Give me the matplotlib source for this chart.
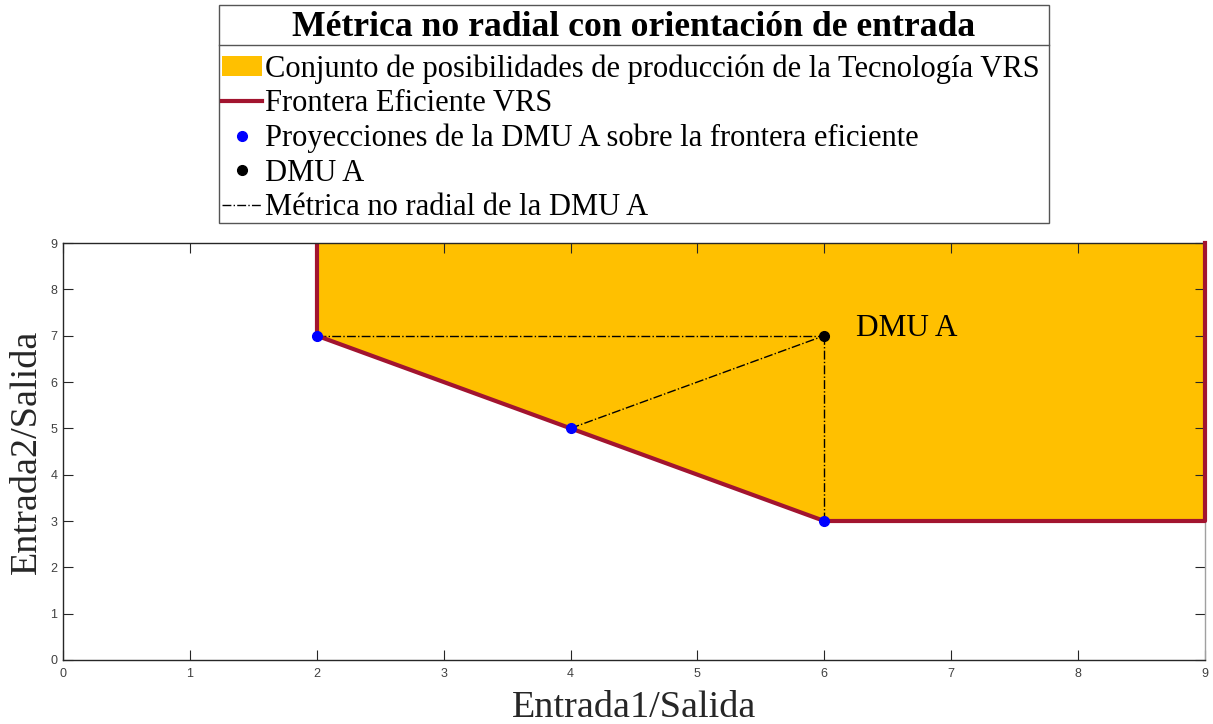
import matplotlib.pyplot as plt
from matplotlib.patches import Patch, Rectangle
from matplotlib.lines import Line2D
import numpy as np

# frontier of the VRS technology (input 1, input 2)
frontier_x = [2, 2, 6, 9, 9]
frontier_y = [9, 7, 3, 3, 9]

# DMU A and its projections on the frontier
dmu_x, dmu_y = 6, 7
proj_x = [2, 4, 6]
proj_y = [7, 5, 3]

fill_color = '#FFC000'
front_color = '#A2142F'
serif = ['Liberation Serif', 'DejaVu Serif']
sans = ['Liberation Sans', 'DejaVu Sans']

W, H = 1213, 724
fig = plt.figure(figsize=(W / 100, H / 100), dpi=100)
ax = fig.add_axes([63 / W, 1 - 660 / H, 1142 / W, 417 / H])

# feasible region
ax.fill(frontier_x, frontier_y, color=fill_color, lw=0, zorder=1)
ax.plot(frontier_x[1:], frontier_y[1:], color=front_color, lw=3, zorder=6, clip_on=False)
ax.plot(frontier_x[:2], frontier_y[:2], color=front_color, lw=3, zorder=3)

# non radial metric of DMU A
for px, py in zip(proj_x, proj_y):
    ax.plot([px, dmu_x], [py, dmu_y], color='k', ls='-.', lw=1, zorder=4)

ax.plot(proj_x, proj_y, 'o', color='b', ms=7, zorder=7, clip_on=False)
ax.plot(dmu_x, dmu_y, 'o', color='k', ms=7, zorder=7)
ax.text(dmu_x + 0.25, dmu_y, 'DMU A', family=serif, fontsize=22.5, va='baseline')

ax.set_xlim(0, 9)
ax.set_ylim(0, 9)
ax.set_xticks(np.arange(0, 10))
ax.set_yticks(np.arange(0, 10))
ax.tick_params(direction='in', length=7, width=0.8, colors='#262626',
               labelsize=9, top=True, right=True)
ax.tick_params(axis='x', pad=6)
ax.tick_params(axis='y', pad=4)
for lab in ax.get_xticklabels() + ax.get_yticklabels():
    lab.set_family(sans)
    lab.set_color('#404040')
for s in ax.spines.values():
    s.set_color('#262626')
    s.set_linewidth(1)
    s.set_zorder(5)
ax.spines['right'].set_color('#a0a0a0')

ax.set_xlabel('Entrada1/Salida', family=serif, fontsize=27.5, color='#262626', labelpad=7)
ax.set_ylabel('Entrada2/Salida', family=serif, fontsize=27.5, color='#262626', labelpad=5)

# legend: framed box with a bold title row
handles = [
    Patch(facecolor=fill_color, edgecolor='none'),
    Line2D([], [], color=front_color, lw=3),
    Line2D([], [], ls='none', marker='o', color='b', ms=7),
    Line2D([], [], ls='none', marker='o', color='k', ms=7),
    Line2D([], [], color='k', ls='-.', lw=1),
]
labels = [
    'Conjunto de posibilidades de producción de la Tecnología VRS',
    'Frontera Eficiente VRS',
    'Proyecciones de la DMU A sobre la frontera eficiente',
    'DMU A',
    'Métrica no radial de la DMU A',
]
bx0, bx1, by0, by1, ysep = 219, 1049, 5, 223, 45
fig.add_artist(Rectangle((bx0 / W, 1 - by1 / H), (bx1 - bx0) / W, (by1 - by0) / H,
                         transform=fig.transFigure, fill=False, edgecolor='#555555', lw=1))
fig.add_artist(Line2D([bx0 / W, bx1 / W], [1 - ysep / H] * 2, color='#555555', lw=1,
                      transform=fig.transFigure))
fig.text((bx0 + bx1) / 2 / W, 1 - 28 / H, 'Métrica no radial con orientación de entrada',
         family=serif, fontsize=25.7, weight='bold', ha='center', va='center')
leg = fig.legend(handles, labels, loc='upper left', bbox_to_anchor=(bx0 / W, 1 - (ysep + 6) / H),
                 prop={'family': serif, 'size': 22}, frameon=False,
                 handlelength=1.3, handleheight=0.65, handletextpad=0.1, labelspacing=0.18,
                 borderpad=0.1, borderaxespad=0)

fig.savefig('out.png', dpi=100)
